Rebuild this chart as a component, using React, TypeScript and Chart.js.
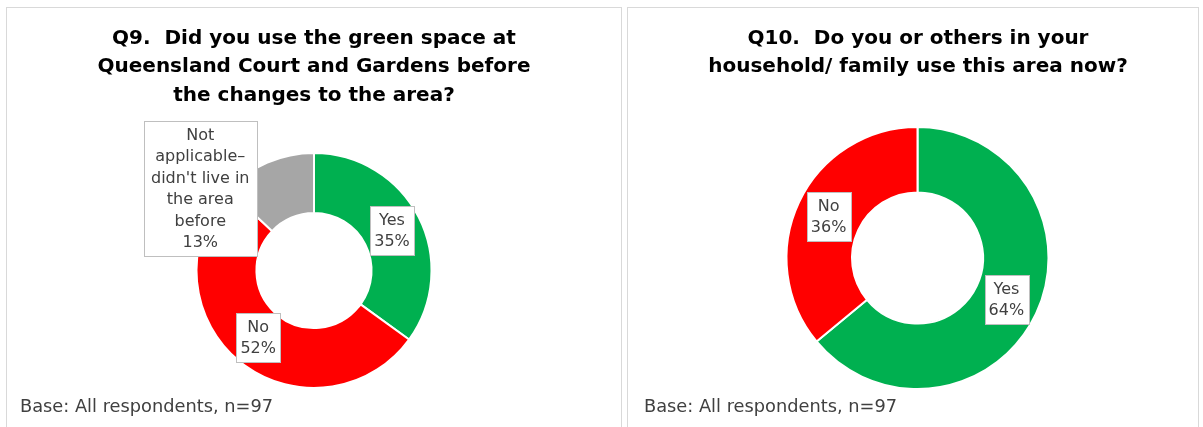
import React, { useEffect, useRef } from "react";
import { Chart, registerables } from "chart.js";

Chart.register(...registerables);

// ---- data ----
const q9Title = ["Q9.  Did you use the green space at", "Queensland Court and Gardens before", "the changes to the area?"];
const q9Categories = [["Yes"], ["No"], ["Not", "applicable–", "didn't live in", "the area", "before"]];
const q9Values = [35, 52, 13];
const q9Colors = ["#00B050", "#FF0000", "#A6A6A6"];

const q10Title = ["Q10.  Do you or others in your", "household/ family use this area now?"];
const q10Categories = [["Yes"], ["No"]];
const q10Values = [64, 36];
const q10Colors = ["#00B050", "#FF0000"];

const baseNote = "Base: All respondents, n=97";

const FONT = "'DejaVu Sans', Verdana, sans-serif";

const boxLabels = {
  id: "boxLabels",
  afterDatasetsDraw(chart: any, _args: any, opts: any) {
    const ctx = chart.ctx as CanvasRenderingContext2D;
    const meta = chart.getDatasetMeta(0);
    const ds = chart.data.datasets[0];
    meta.data.forEach((arc: any, i: number) => {
      const p = arc.getProps(["x", "y", "startAngle", "endAngle", "innerRadius", "outerRadius"], true);
      const mid = (p.startAngle + p.endAngle) / 2;
      const r = (p.innerRadius + p.outerRadius) / 2;
      const off = (opts.offsets && opts.offsets[i]) || [0, 0];
      const cx = p.x + Math.cos(mid) * r + off[0];
      const cy = p.y + Math.sin(mid) * r + off[1];
      const lines: string[] = [...(chart.data.labels[i] as string[]), `${ds.data[i]}%`];
      ctx.save();
      ctx.font = `16px ${FONT}`;
      const lh = 21.5;
      const textW = Math.max(...lines.map((l) => ctx.measureText(l).width));
      const w = textW + (lines.length > 2 ? 14 : 8);
      const h = lines.length * lh + 6;
      const bx = Math.round(cx - w / 2);
      const by = Math.round(cy - h / 2);
      ctx.fillStyle = "#FFFFFF";
      ctx.fillRect(bx, by, Math.round(w), Math.round(h));
      ctx.strokeStyle = "#BFBFBF";
      ctx.lineWidth = 1;
      ctx.strokeRect(bx + 0.5, by + 0.5, Math.round(w), Math.round(h));
      ctx.fillStyle = "#404040";
      ctx.textAlign = "center";
      ctx.textBaseline = "middle";
      lines.forEach((l, j) => ctx.fillText(l, cx, by + 3 + lh * (j + 0.5) + 1));
      ctx.restore();
    });
  },
};

function Donut(props: {
  width: number;
  height: number;
  left: number;
  labels: string[][];
  values: number[];
  colors: string[];
  padding: { left: number; right: number; top: number; bottom: number };
  cutout: string;
  offsets?: number[][];
}) {
  const ref = useRef<HTMLCanvasElement>(null);
  useEffect(() => {
    if (!ref.current) return;
    const chart = new Chart(ref.current, {
      type: "doughnut",
      data: {
        labels: props.labels as any,
        datasets: [
          {
            data: props.values,
            backgroundColor: props.colors,
            borderColor: "#FFFFFF",
            borderWidth: 2,
            hoverOffset: 0,
            offset: 0,
          },
        ],
      },
      options: {
        responsive: false,
        animation: false,
        cutout: props.cutout,
        layout: { padding: props.padding },
        plugins: {
          legend: { display: false },
          tooltip: { enabled: false },
          title: { display: false },
          boxLabels: { offsets: props.offsets || [] },
        } as any,
      },
      plugins: [boxLabels as any],
    });
    return () => chart.destroy();
  }, []);
  return (
    <canvas
      ref={ref}
      width={props.width}
      height={props.height}
      style={{ position: "absolute", left: props.left, top: 0, width: props.width, height: props.height }}
    />
  );
}

const titleStyle: React.CSSProperties = {
  position: "absolute",
  top: 22.75,
  textAlign: "center",
  fontFamily: FONT,
  fontWeight: "bold",
  fontSize: 20,
  lineHeight: "28.5px",
  color: "#000000",
  whiteSpace: "nowrap",
};

const baseStyle: React.CSSProperties = {
  position: "absolute",
  top: 396,
  fontFamily: FONT,
  fontSize: 17.8,
  lineHeight: "20px",
  color: "#404040",
  whiteSpace: "nowrap",
};

export default function App() {
  return (
    <div style={{ position: "absolute", left: 0, top: 0, width: 1203, height: 427, overflow: "hidden", background: "#FFFFFF" }}>
      <div style={{ position: "absolute", left: 6, top: 7, width: 614, height: 440, border: "1px solid #D9D9D9" }} />
      <div style={{ position: "absolute", left: 627, top: 7, width: 570, height: 440, border: "1px solid #D9D9D9" }} />
      <Donut
        width={620}
        height={427}
        left={0}
        labels={q9Categories}
        values={q9Values}
        colors={q9Colors}
        padding={{ left: 195.5, right: 187.5, top: 152, bottom: 38 }}
        cutout="49%"
        offsets={[[0, 0], [0, 0], [-79, -2]]}
      />
      <Donut
        width={583}
        height={427}
        left={620}
        labels={q10Categories}
        values={q10Values}
        colors={q10Colors}
        padding={{ left: 165.5, right: 153.5, top: 126, bottom: 37 }}
        cutout="50%"
      />
      <div style={{ ...titleStyle, left: 14, width: 600 }}>
        {q9Title.map((t, i) => (
          <div key={i} style={{ whiteSpace: "pre" }}>{t}</div>
        ))}
      </div>
      <div style={{ ...titleStyle, left: 618, width: 600 }}>
        {q10Title.map((t, i) => (
          <div key={i} style={{ whiteSpace: "pre" }}>{t}</div>
        ))}
      </div>
      <div style={{ ...baseStyle, left: 20 }}>{baseNote}</div>
      <div style={{ ...baseStyle, left: 644 }}>{baseNote}</div>
    </div>
  );
}
